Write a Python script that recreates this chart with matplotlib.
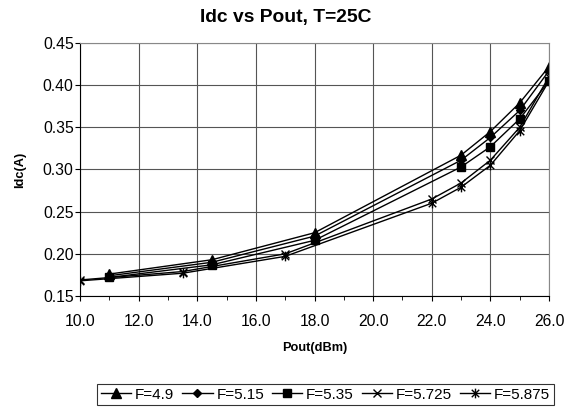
import numpy as np
import matplotlib
matplotlib.use("Agg")
import matplotlib.pyplot as plt
from matplotlib.path import Path

plt.rcParams['font.family'] = ['Liberation Sans', 'DejaVu Sans']

# data
pout_a = [11.0, 14.5, 18.0, 23.0, 24.0, 25.0, 26.0]
idc_49 = [0.176, 0.193, 0.225, 0.317, 0.345, 0.379, 0.422]
idc_515 = [0.174, 0.190, 0.221, 0.311, 0.338, 0.370, 0.417]
idc_535 = [0.172, 0.187, 0.216, 0.303, 0.327, 0.360, 0.405]

pout_b = [10.0, 13.5, 17.0, 22.0, 23.0, 24.0, 25.0, 26.0]
idc_5725 = [0.169, 0.179, 0.200, 0.265, 0.284, 0.311, 0.350, 0.410]
idc_5875 = [0.168, 0.177, 0.197, 0.260, 0.279, 0.305, 0.346, 0.405]

# excel style asterisk marker (x with a vertical bar)
star = Path([(-1, -1), (1, 1), (-1, 1), (1, -1), (0, -1.3), (0, 1.3)],
            [Path.MOVETO, Path.LINETO, Path.MOVETO, Path.LINETO, Path.MOVETO, Path.LINETO])

fig = plt.figure(figsize=(5.72, 4.11), dpi=100)
ax = fig.add_axes([0.1399, 0.2798, 0.8199, 0.6156])

lw = 1.0
ax.plot(pout_a, idc_49, color='black', lw=lw, marker='^', ms=6.5, label='F=4.9')
ax.plot(pout_a, idc_515, color='black', lw=lw, marker='D', ms=4.5, label='F=5.15')
ax.plot(pout_a, idc_535, color='black', lw=lw, marker='s', ms=5.5, label='F=5.35')
ax.plot(pout_b, idc_5725, color='black', lw=lw, marker='x', ms=6, mew=1.0, label='F=5.725')
ax.plot(pout_b, idc_5875, color='black', lw=lw, marker=star, ms=7, mew=1.0, label='F=5.875')

ax.set_xlim(10, 26)
ax.set_ylim(0.15, 0.45)
ax.set_xticks(np.arange(10, 26.1, 2))
ax.set_xticks(np.arange(10, 26.1, 1), minor=True)
ax.set_yticks(np.arange(0.15, 0.451, 0.05))
ax.set_xticklabels(['%.1f' % v for v in np.arange(10, 26.1, 2)])
ax.set_yticklabels(['%.2f' % v for v in np.arange(0.15, 0.451, 0.05)])
ax.grid(True, which='major', color='#555555', lw=0.8)
ax.set_axisbelow(True)
ax.tick_params(axis='both', which='major', direction='out', length=3.6, labelsize=11.3, color='black')
ax.tick_params(axis='x', which='minor', direction='out', length=3, color='black')
ax.tick_params(axis='x', which='major', pad=9)
ax.tick_params(axis='y', which='major', pad=1)

for s in ['top', 'right']:
    ax.spines[s].set_color('#888888')
for s in ['left', 'bottom']:
    ax.spines[s].set_color('black')

ax.set_xlabel('Pout(dBm)', fontsize=9.2, fontweight='bold', labelpad=10)
ax.set_ylabel('Idc(A)', fontsize=9.2, fontweight='bold', labelpad=12)
fig.text(0.5, 1 - 22 / 411, 'Idc vs Pout, T=25C', ha='center', va='baseline',
         fontsize=13.9, fontweight='bold')

leg = fig.legend(loc='center', bbox_to_anchor=(0.569, 0.04), ncol=5, fontsize=11,
                 frameon=True, fancybox=False, edgecolor='black', handlelength=2.0,
                 handletextpad=0.25, columnspacing=0.5, borderpad=0.25, borderaxespad=0)
leg.get_frame().set_linewidth(0.8)

fig.savefig('out.png', dpi=100)
